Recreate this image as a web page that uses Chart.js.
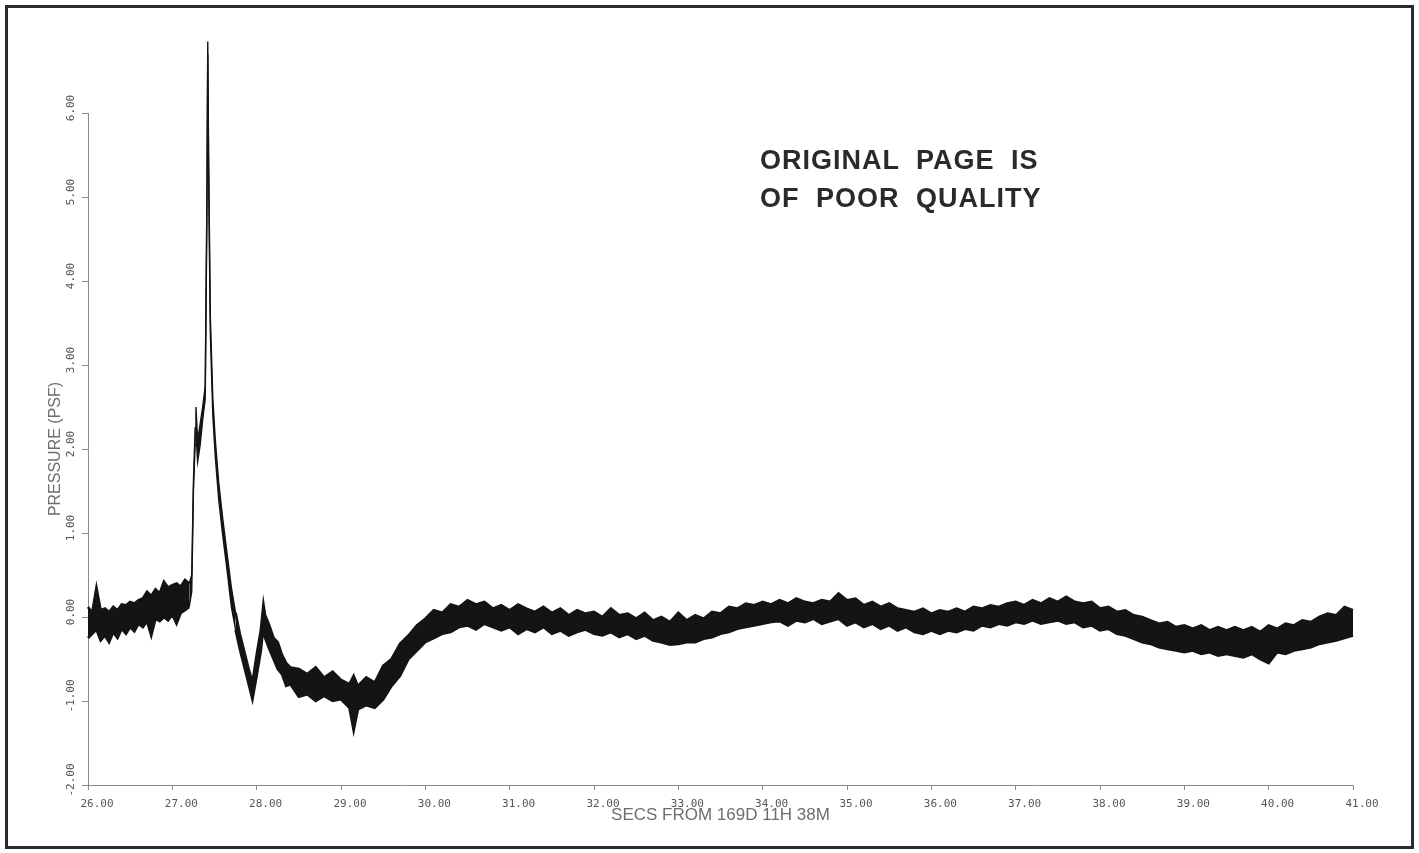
<!DOCTYPE html>
<html>
<head>
<meta charset="utf-8">
<script src="https://cdn.jsdelivr.net/npm/chart.js@4"></script>
<style>
  html, body { margin: 0; padding: 0; background: #fff; }
  #wrap { position: relative; width: 1419px; height: 853px; overflow: hidden; }
  #frame { position: absolute; left: 5px; top: 5px; width: 1403px; height: 838px; border: 3px solid #2b2b2b; }
  #chart { position: absolute; left: 0; top: 0; }
  #stamp {
    position: absolute; left: 760px; top: 141px;
    font-family: "Liberation Sans", Arial, sans-serif; font-weight: bold;
    font-size: 27px; line-height: 38px; letter-spacing: 1px; word-spacing: 8px;
    color: #2a2a2a; white-space: nowrap;
  }
</style>
</head>
<body>
<div id="wrap">
  <div id="frame"></div>
  <canvas id="chart" width="1419" height="853"></canvas>
  <div id="stamp">ORIGINAL PAGE IS<br>OF POOR QUALITY</div>
</div>
<script>
// time in seconds from 169D 11H 38M
const times = [
  26.00, 26.05, 26.10, 26.15, 26.20, 26.25, 26.30, 26.35, 26.40, 26.45,
  26.50, 26.55, 26.60, 26.65, 26.70, 26.75, 26.80, 26.85, 26.90, 26.95,
  27.00, 27.05, 27.10, 27.15, 27.20,
  27.23, 27.25, 27.27, 27.28, 27.30, 27.33, 27.36, 27.39, 27.41, 27.42,
  27.43, 27.45, 27.48, 27.51, 27.55, 27.60, 27.65, 27.70, 27.75, 27.80,
  27.85, 27.90, 27.95, 28.00, 28.05, 28.08, 28.10, 28.15, 28.20, 28.25,
  28.30, 28.35, 28.40,
  28.5, 28.6, 28.7, 28.8, 28.9, 29.0, 29.1, 29.15, 29.2, 29.3,
  29.4, 29.5, 29.6, 29.7, 29.8, 29.9, 30.0, 30.1, 30.2, 30.3,
  30.4, 30.5, 30.6, 30.7, 30.8, 30.9, 31.0, 31.1, 31.2, 31.3,
  31.4, 31.5, 31.6, 31.7, 31.8, 31.9, 32.0, 32.1, 32.2, 32.3,
  32.4, 32.5, 32.6, 32.7, 32.8, 32.9, 33.0, 33.1, 33.2, 33.3,
  33.4, 33.5, 33.6, 33.7, 33.8, 33.9, 34.0, 34.1, 34.2, 34.3,
  34.4, 34.5, 34.6, 34.7, 34.8, 34.9, 35.0, 35.1, 35.2, 35.3,
  35.4, 35.5, 35.6, 35.7, 35.8, 35.9, 36.0, 36.1, 36.2, 36.3,
  36.4, 36.5, 36.6, 36.7, 36.8, 36.9, 37.0, 37.1, 37.2, 37.3,
  37.4, 37.5, 37.6, 37.7, 37.8, 37.9, 38.0, 38.1, 38.2, 38.3,
  38.4, 38.5, 38.6, 38.7, 38.8, 38.9, 39.0, 39.1, 39.2, 39.3,
  39.4, 39.5, 39.6, 39.7, 39.8, 39.9, 40.0, 40.1, 40.2, 40.3,
  40.4, 40.5, 40.6, 40.7, 40.8, 40.9, 41.0
];

// top edge of the noisy pressure trace (PSF)
const upperPsf = [
  0.12, 0.05, 0.35, 0.08, 0.10, 0.06, 0.12, 0.08, 0.15, 0.14,
  0.18, 0.16, 0.20, 0.22, 0.30, 0.25, 0.33, 0.28, 0.42, 0.35,
  0.38, 0.40, 0.36, 0.44, 0.40,
  0.50, 1.60, 2.25, 2.50, 2.10, 2.30, 2.50, 2.75, 5.00, 6.85,
  5.50, 3.60, 2.60, 2.10, 1.60, 1.15, 0.75, 0.35, 0.05, -0.20,
  -0.40, -0.60, -0.78, -0.45, -0.15, 0.15, 0.02, -0.10, -0.25, -0.30,
  -0.45, -0.55, -0.60,
  -0.62, -0.68, -0.60, -0.72, -0.65, -0.75, -0.80, -0.70, -0.82, -0.72,
  -0.78, -0.58, -0.50, -0.32, -0.22, -0.10, -0.02, 0.08, 0.05, 0.15,
  0.12, 0.20, 0.15, 0.18, 0.10, 0.14, 0.08, 0.15, 0.10, 0.06,
  0.12, 0.05, 0.10, 0.02, 0.08, 0.04, 0.06, 0.00, 0.10, 0.02,
  0.04, -0.02, 0.05, -0.04, 0.00, -0.06, 0.05, -0.04, 0.02, -0.02,
  0.06, 0.04, 0.12, 0.10, 0.16, 0.14, 0.18, 0.15, 0.20, 0.16,
  0.22, 0.18, 0.16, 0.20, 0.18, 0.28, 0.20, 0.22, 0.14, 0.18,
  0.12, 0.16, 0.10, 0.08, 0.06, 0.10, 0.04, 0.08, 0.06, 0.10,
  0.06, 0.12, 0.10, 0.14, 0.12, 0.16, 0.18, 0.14, 0.20, 0.16,
  0.22, 0.18, 0.24, 0.18, 0.16, 0.18, 0.10, 0.12, 0.06, 0.08,
  0.02, 0.00, -0.04, -0.08, -0.06, -0.12, -0.10, -0.14, -0.10, -0.16,
  -0.12, -0.16, -0.12, -0.16, -0.12, -0.18, -0.10, -0.14, -0.08, -0.10,
  -0.04, -0.06, 0.00, 0.04, 0.02, 0.12, 0.08
];

// bottom edge of the noisy pressure trace (PSF)
const lowerPsf = [
  -0.25, -0.20, -0.15, -0.28, -0.22, -0.30, -0.18, -0.25, -0.14, -0.20,
  -0.12, -0.17, -0.08, -0.12, -0.05, -0.22, -0.02, -0.05, 0.00, -0.04,
  0.03, -0.08, 0.05, 0.08, 0.12,
  0.30, 1.50, 2.05, 2.20, 1.85, 2.05, 2.35, 2.60, 4.80, 6.70,
  5.30, 3.40, 2.40, 1.90, 1.40, 0.95, 0.55, 0.12, -0.15, -0.38,
  -0.58, -0.78, -0.98, -0.70, -0.40, -0.10, -0.25, -0.38, -0.50, -0.62,
  -0.68, -0.82, -0.80,
  -0.95, -0.92, -1.00, -0.94, -1.00, -0.98, -1.08, -1.35, -1.10, -1.05,
  -1.08, -0.98, -0.82, -0.70, -0.50, -0.40, -0.30, -0.25, -0.20, -0.18,
  -0.12, -0.10, -0.15, -0.08, -0.12, -0.16, -0.12, -0.20, -0.14, -0.18,
  -0.12, -0.20, -0.16, -0.22, -0.18, -0.15, -0.20, -0.22, -0.18, -0.24,
  -0.20, -0.26, -0.22, -0.28, -0.30, -0.33, -0.32, -0.30, -0.30, -0.26,
  -0.24, -0.20, -0.18, -0.14, -0.12, -0.10, -0.08, -0.06, -0.05, -0.10,
  -0.04, -0.06, -0.02, -0.08, -0.05, -0.02, -0.10, -0.06, -0.12, -0.08,
  -0.14, -0.10, -0.16, -0.12, -0.18, -0.20, -0.16, -0.20, -0.16, -0.18,
  -0.14, -0.16, -0.10, -0.12, -0.08, -0.10, -0.06, -0.08, -0.04, -0.08,
  -0.06, -0.04, -0.08, -0.06, -0.12, -0.10, -0.16, -0.14, -0.20, -0.22,
  -0.26, -0.30, -0.32, -0.36, -0.38, -0.40, -0.42, -0.40, -0.44, -0.42,
  -0.46, -0.44, -0.46, -0.48, -0.44, -0.50, -0.55, -0.42, -0.44, -0.40,
  -0.38, -0.36, -0.32, -0.30, -0.28, -0.25, -0.22
];

const xTitle = "SECS FROM 169D 11H 38M";
const yTitle = "PRESSURE (PSF)";

const traceColor = "#141414";
const axisColor = "#8a8a8a";
const tickFont = { family: "DejaVu Sans Mono", size: 11 };

// thin line through the spike, thicker where the trace is a noise band
const segWidth = (c) => (c.p1.parsed.x <= 27.2 || c.p0.parsed.x >= 27.75 ? 2.6 : 1.4);

const ctx = document.getElementById("chart").getContext("2d");
const chart = new Chart(ctx, {
  type: "line",
  data: {
    datasets: [
      {
        data: times.map((t, i) => ({ x: t, y: upperPsf[i] })),
        borderColor: traceColor,
        backgroundColor: traceColor,
        borderWidth: 1.4,
        segment: { borderWidth: segWidth },
        pointRadius: 0,
        fill: "+1",
        clip: false,
      },
      {
        data: times.map((t, i) => ({ x: t, y: lowerPsf[i] })),
        borderColor: traceColor,
        backgroundColor: traceColor,
        borderWidth: 1.4,
        segment: { borderWidth: segWidth },
        pointRadius: 0,
        fill: false,
        clip: false,
      },
    ],
  },
  options: {
    responsive: false,
    animation: false,
    layout: { padding: { left: 0, right: 66, top: 113, bottom: 0 } },
    plugins: { legend: { display: false }, tooltip: { enabled: false } },
    scales: {
      x: {
        type: "linear",
        min: 26,
        max: 41,
        afterFit: (s) => { s.height = 68; },
        border: { color: axisColor, width: 1 },
        grid: { drawOnChartArea: false, color: axisColor, tickLength: 5 },
        ticks: {
          stepSize: 1,
          color: "#555",
          font: tickFont,
          padding: 8,
          labelOffset: 9,
          maxRotation: 0,
          callback: (v) => v.toFixed(2),
        },
        title: {
          display: true,
          text: xTitle,
          color: "#6e6e6e",
          font: { family: "Liberation Sans", size: 17 },
          padding: { bottom: 27 },
        },
      },
      y: {
        min: -2,
        max: 6,
        afterFit: (s) => { s.width = 88; },
        border: { color: axisColor, width: 1 },
        grid: { drawOnChartArea: false, color: axisColor, tickLength: 6 },
        ticks: {
          stepSize: 1,
          color: "#555",
          font: tickFont,
          padding: -6,
          labelOffset: -5,
          minRotation: 90,
          maxRotation: 90,
          crossAlign: "center",
          callback: (v) => v.toFixed(2),
        },
        title: {
          display: true,
          text: yTitle,
          color: "#6e6e6e",
          font: { family: "Liberation Sans", size: 16 },
          padding: { top: 46 },
        },
      },
    },
  },
});
</script>
</body>
</html>
